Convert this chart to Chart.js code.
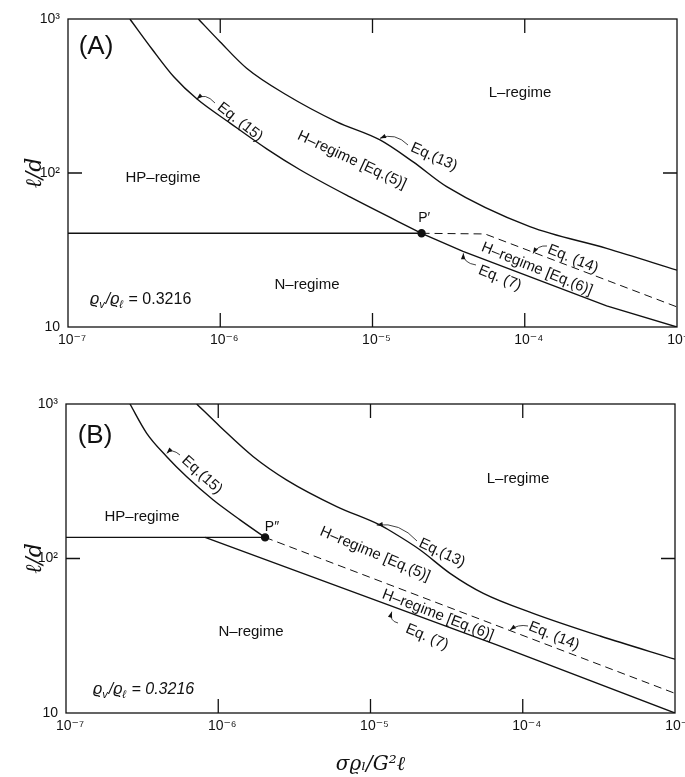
<!DOCTYPE html>
<html>
<head>
<meta charset="utf-8">
<script src="https://cdn.jsdelivr.net/npm/chart.js@4.4.0/dist/chart.umd.min.js"></script>
<style>
  body { margin: 0; background: #fff; }
  canvas { display: block; }
</style>
</head>
<body>
<canvas id="chartA" width="685" height="388"></canvas>
<canvas id="chartB" width="685" height="389"></canvas>
<script>
const xTicks = [1e-7, 1e-6, 1e-5, 1e-4, 1e-3];
const xTickLabels = ['10⁻⁷', '10⁻⁶', '10⁻⁵', '10⁻⁴', '10⁻³'];
const yTicks = [10, 100, 1000];
const yTickLabels = ['10', '10²', '10³'];

// panel A, points are [σρℓ/G²ℓ, ℓ/d]
const aEq15 = [[2.55e-7, 1000], [3.56e-7, 639], [4.97e-7, 420], [7.04e-7, 302], [1.16e-6, 211],
               [2.03e-6, 143], [3.34e-6, 105], [7.11e-6, 69.9], [2.10e-5, 40.6]];
const aEq7 = [[2.10e-5, 40.6], [3.93e-5, 31.0], [3.45e-4, 13.7], [1e-3, 10]];
const aBoundN = [[1e-7, 40.6], [2.10e-5, 40.6]];
const aEq14 = [[2.10e-5, 40.6], [5.48e-5, 40.2], [1e-3, 13.5]];
const aEq13 = [[7.18e-7, 1000], [9.96e-7, 712], [1.49e-6, 479], [2.73e-6, 321], [5.82e-6, 215],
               [1.12e-5, 164], [1.85e-5, 118], [3.07e-5, 81.5], [1.08e-4, 44.8], [3.45e-4, 32.4], [1e-3, 23.4]];
const aPoint = [[2.10e-5, 40.6]];

// panel B
const bEq15 = [[2.63e-7, 1000], [3.39e-7, 646], [4.59e-7, 456], [6.21e-7, 338], [9.28e-7, 239],
               [1.39e-6, 178], [2.03e-6, 137]];
const bBoundN = [[1e-7, 137], [2.03e-6, 137]];
const bEq7 = [[8.2e-7, 137], [6.75e-5, 27.6], [1e-3, 10]];
const bEq14 = [[2.03e-6, 137], [1e-3, 13.4]];
const bEq13 = [[7.22e-7, 1000], [1.03e-6, 713], [1.70e-6, 456], [2.82e-6, 322], [6.00e-6, 217],
               [1.15e-5, 165], [1.38e-5, 149], [2.11e-5, 114], [3.33e-5, 80.2], [5.51e-5, 59.5],
               [1.17e-4, 44.2], [3.22e-4, 31.5], [1e-3, 22.3]];
const bPoint = [[2.03e-6, 137]];

// text placement in decades (log10 x, log10 y)
const panelA = {
  labels: [
    {t: '(A)', u: -6.816, v: 2.818, size: 26},
    {t: 'L–regime', u: -4.031, v: 2.519},
    {t: 'HP–regime', u: -6.376, v: 1.968},
    {t: 'N–regime', u: -5.430, v: 1.273},
    {t: 'P′', u: -4.660, v: 1.708, size: 14},
    {t: 'Eq. (15)', u: -5.870, v: 2.331, rot: 38},
    {t: 'H–regime [Eq.(5)]', u: -5.135, v: 2.084, rot: 25},
    {t: 'Eq.(13)', u: -4.596, v: 2.104, rot: 24},
    {t: 'Eq. (14)', u: -3.683, v: 1.442, rot: 22},
    {t: 'H–regime [Eq.(6)]', u: -3.920, v: 1.377, rot: 22},
    {t: 'Eq. (7)', u: -4.163, v: 1.318, rot: 22}
  ],
  ratio: {u: -6.855, v: 1.188, italic: false},
  arrows: [
    [[-6.0345, 2.4545], [-6.1002, 2.526], [-6.1547, 2.4805]],
    [[-4.7668, 2.1818], [-4.8522, 2.2662], [-4.9507, 2.2253]],
    [[-3.8539, 1.526], [-3.9130, 1.5325], [-3.9458, 1.4773]],
    [[-4.3202, 1.4026], [-4.4056, 1.4156], [-4.4036, 1.4786]]
  ]
};
const panelB = {
  labels: [
    {t: '(B)', u: -6.8095, v: 2.7929, size: 26},
    {t: 'L–regime', u: -4.0312, v: 2.5146},
    {t: 'HP–regime', u: -6.5008, v: 2.2706},
    {t: 'N–regime', u: -5.7849, v: 1.5243},
    {t: 'P″', u: -5.647, v: 2.204, size: 14},
    {t: 'Eq.(15)', u: -6.1067, v: 2.5405, rot: 42},
    {t: 'Eq.(13)', u: -4.5304, v: 2.0356, rot: 25},
    {t: 'H–regime [Eq.(5)]', u: -4.9704, v: 2.0291, rot: 23},
    {t: 'H–regime [Eq.(6)]', u: -4.5567, v: 1.6343, rot: 21},
    {t: 'Eq. (7)', u: -4.6289, v: 1.4919, rot: 23},
    {t: 'Eq. (14)', u: -3.7947, v: 1.4984, rot: 22}
  ],
  ratio: {u: -6.8227, v: 1.1618, italic: true},
  arrows: [
    [[-6.2512, 2.6699], [-6.3038, 2.7152], [-6.3386, 2.6809]],
    [[-4.6946, 2.1133], [-4.8062, 2.2362], [-4.9593, 2.2168]],
    [[-3.9655, 1.5631], [-4.0312, 1.5761], [-4.0837, 1.5372]],
    [[-4.8194, 1.5825], [-4.8785, 1.5955], [-4.8608, 1.6557]]
  ]
};

const FONT = '"Liberation Sans", "DejaVu Sans", sans-serif';

function decor(panel) {
  return {
    id: 'decor',
    afterDraw(chart) {
      const {ctx, chartArea: a, scales: {x, y}} = chart;
      const px = u => x.getPixelForValue(Math.pow(10, u));
      const py = v => y.getPixelForValue(Math.pow(10, v));
      ctx.save();
      ctx.strokeStyle = '#111';
      ctx.fillStyle = '#111';
      ctx.lineWidth = 1.3;
      ctx.strokeRect(a.left, a.top, a.right - a.left, a.bottom - a.top);

      // inward tick marks
      ctx.beginPath();
      xTicks.slice(1, -1).forEach(v => {
        const p = x.getPixelForValue(v);
        ctx.moveTo(p, a.bottom); ctx.lineTo(p, a.bottom - 14);
        ctx.moveTo(p, a.top); ctx.lineTo(p, a.top + 14);
      });
      yTicks.slice(1, -1).forEach(v => {
        const p = y.getPixelForValue(v);
        ctx.moveTo(a.left, p); ctx.lineTo(a.left + 14, p);
        ctx.moveTo(a.right, p); ctx.lineTo(a.right - 14, p);
      });
      ctx.stroke();

      ctx.textAlign = 'center';
      ctx.textBaseline = 'middle';
      panel.labels.forEach(l => {
        ctx.save();
        ctx.translate(px(l.u), py(l.v));
        ctx.rotate((l.rot || 0) * Math.PI / 180);
        ctx.font = (l.size || 15) + 'px ' + FONT;
        ctx.fillText(l.t, 0, 0);
        ctx.restore();
      });

      // ρv/ρℓ = 0.3216
      const parts = [['ϱ', 0], ['v', 1], ['/', 0], ['ϱ', 0], ['ℓ', 1], [' = 0.3216', 0]];
      let cx = px(panel.ratio.u);
      const cy = py(panel.ratio.v);
      ctx.textAlign = 'left';
      ctx.textBaseline = 'alphabetic';
      parts.forEach(([t, sub]) => {
        const style = panel.ratio.italic || t !== ' = 0.3216' ? 'italic ' : '';
        ctx.font = style + (sub ? '11px ' : '16px ') + FONT;
        ctx.fillText(t, cx, cy + (sub ? 10 : 6));
        cx += ctx.measureText(t).width + (sub ? 1 : 0);
      });

      // leader arrows
      ctx.lineWidth = 0.8;
      panel.arrows.forEach(([s, c, e]) => {
        const sx = px(s[0]), sy = py(s[1]), qx = px(c[0]), qy = py(c[1]), ex = px(e[0]), ey = py(e[1]);
        ctx.beginPath();
        ctx.moveTo(sx, sy);
        ctx.quadraticCurveTo(qx, qy, ex, ey);
        ctx.stroke();
        const ang = Math.atan2(ey - qy, ex - qx);
        ctx.beginPath();
        ctx.moveTo(ex, ey);
        ctx.lineTo(ex - 6 * Math.cos(ang) + 2.2 * Math.sin(ang), ey - 6 * Math.sin(ang) - 2.2 * Math.cos(ang));
        ctx.lineTo(ex - 6 * Math.cos(ang) - 2.2 * Math.sin(ang), ey - 6 * Math.sin(ang) + 2.2 * Math.cos(ang));
        ctx.closePath();
        ctx.fill();
      });
      ctx.restore();
    }
  };
}

function line(pts, extra) {
  return Object.assign({
    data: pts.map(([x, y]) => ({x, y})),
    showLine: true,
    borderColor: '#111',
    backgroundColor: '#111',
    borderWidth: 1.4,
    pointRadius: 0,
    fill: false,
    tension: 0
  }, extra || {});
}

function makeChart(id, sets, panel, dims) {
  new Chart(document.getElementById(id), {
    type: 'scatter',
    data: {
      datasets: [
        line(sets.eq15, {cubicInterpolationMode: 'monotone'}),
        line(sets.eq7),
        line(sets.boundN),
        line(sets.eq14, {borderWidth: 1, borderDash: [8, 5]}),
        line(sets.eq13, {cubicInterpolationMode: 'monotone'}),
        line(sets.point, {showLine: false, pointRadius: 3.5})
      ]
    },
    options: {
      responsive: false,
      animation: false,
      layout: {padding: {top: dims.top, right: dims.right, left: 0, bottom: 0}},
      plugins: {legend: {display: false}, tooltip: {enabled: false}},
      scales: {
        x: {
          type: 'logarithmic',
          min: 1e-7,
          max: 1e-3,
          afterBuildTicks: s => { s.ticks = xTicks.map(v => ({value: v})); },
          afterFit: s => { s.height = dims.xh; s.paddingLeft = 0; s.paddingRight = 0; },
          grid: {display: false, drawTicks: false},
          border: {display: false},
          ticks: {
            color: '#111', padding: 5, labelOffset: 4, maxRotation: 0,
            font: {family: FONT, size: 14},
            callback: v => xTickLabels[xTicks.indexOf(v)]
          },
          title: {
            display: !!dims.xTitle, text: dims.xTitle || '', color: '#111',
            font: {family: '"DejaVu Serif", serif', style: 'italic', size: 20},
            padding: {top: 0, bottom: 0}
          }
        },
        y: {
          type: 'logarithmic',
          min: 10,
          max: 1000,
          afterBuildTicks: s => { s.ticks = yTicks.map(v => ({value: v})); },
          afterFit: s => { s.width = dims.yw; s.paddingTop = 0; s.paddingBottom = 0; },
          grid: {display: false, drawTicks: false},
          border: {display: false},
          ticks: {
            color: '#111', padding: 8,
            font: {family: FONT, size: 14},
            callback: v => yTickLabels[yTicks.indexOf(v)]
          },
          title: {
            display: true, text: 'ℓ/d', color: '#111',
            font: {family: '"DejaVu Serif", serif', style: 'italic', size: 22},
            padding: {top: 22, bottom: 0}
          }
        }
      }
    },
    plugins: [decor(panel)]
  });
}

window.onload = function () {
  makeChart('chartA',
    {eq15: aEq15, eq7: aEq7, boundN: aBoundN, eq14: aEq14, eq13: aEq13, point: aPoint},
    panelA, {top: 19, right: 8, xh: 61, yw: 68});
  makeChart('chartB',
    {eq15: bEq15, eq7: bEq7, boundN: bBoundN, eq14: bEq14, eq13: bEq13, point: bPoint},
    panelB, {top: 16, right: 10, xh: 64, yw: 66, xTitle: 'σϱₗ/G²ℓ'});
};
</script>
</body>
</html>
